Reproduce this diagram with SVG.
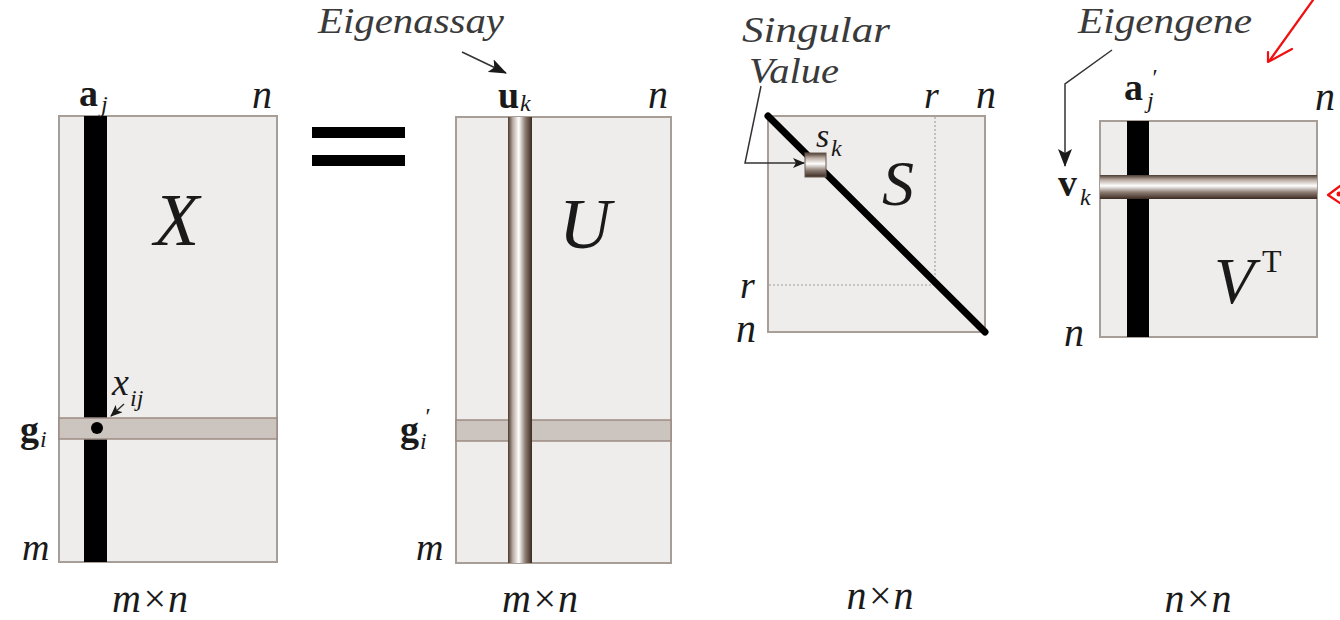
<svg xmlns="http://www.w3.org/2000/svg" width="1340" height="620" viewBox="0 0 1340 620">
<style>
.mat{fill:#efedeb;stroke:#a89e98;stroke-width:2}
.row{fill:#ccc4bf;stroke:#9c8c84;stroke-width:1.5}
.it{fill:#1a1a1a}
.bd{fill:#1a1a1a}
.lbl{fill:#3a3a3a}
.conn{fill:none;stroke:#333;stroke-width:1.5}
.red{fill:none;stroke:#f01010;stroke-width:2.2;stroke-linecap:round;stroke-linejoin:round}
</style>
<defs>
<linearGradient id="gv" x1="0" y1="0" x2="1" y2="0">
<stop offset="0" stop-color="#4a3a30"/>
<stop offset="0.2" stop-color="#b8aaa0"/>
<stop offset="0.45" stop-color="#ffffff"/>
<stop offset="0.72" stop-color="#8c7c72"/>
<stop offset="1" stop-color="#3a2a20"/>
</linearGradient>
<linearGradient id="gh" x1="0" y1="0" x2="0" y2="1">
<stop offset="0" stop-color="#4a3a30"/>
<stop offset="0.2" stop-color="#b8aaa0"/>
<stop offset="0.45" stop-color="#ffffff"/>
<stop offset="0.72" stop-color="#8c7c72"/>
<stop offset="1" stop-color="#3a2a20"/>
</linearGradient>
<marker id="ah" viewBox="0 0 12 10" refX="11" refY="5" markerWidth="12" markerHeight="10" markerUnits="userSpaceOnUse" orient="auto">
<path d="M0,0 L12,5 L0,10 L3,5 Z" fill="#1a1a1a"/>
</marker>
<marker id="ahb" viewBox="0 0 18 14" refX="17" refY="7" markerWidth="18" markerHeight="14" markerUnits="userSpaceOnUse" orient="auto">
<path d="M0,0 L18,7 L0,14 L4,7 Z" fill="#1a1a1a"/>
</marker>
</defs>

<g id="X">
<rect class="mat" x="59" y="116" width="218" height="446"/>
<rect x="84" y="116" width="23" height="446" fill="#000"/>
<rect class="row" x="59" y="418" width="218" height="21"/>
<circle cx="97" cy="428" r="6" fill="#000"/>
<text class="bd" font-family="Liberation Serif" font-weight="bold" x="79" y="106" font-size="38">a</text>
<text class="it" font-family="Liberation Serif" font-style="italic" x="101" y="112" font-size="24">j</text>
<text class="it" font-family="Liberation Serif" font-style="italic" x="252" y="108" font-size="40">n</text>
<text class="it" font-family="Liberation Serif" font-style="italic" x="154" y="245" font-size="74">X</text>
<text class="it" font-family="Liberation Serif" font-style="italic" x="112" y="395" font-size="38">x</text>
<text class="it" font-family="Liberation Serif" font-style="italic" x="130" y="406" font-size="24">ij</text>
<text class="bd" font-family="Liberation Serif" font-weight="bold" x="20" y="442" font-size="38">g</text>
<text class="it" font-family="Liberation Serif" font-style="italic" x="40" y="447" font-size="24">i</text>
<text class="it" font-family="Liberation Serif" font-style="italic" x="22" y="560" font-size="38">m</text>
<text class="it" font-family="Liberation Serif" font-style="italic" text-anchor="middle" x="150" y="612" font-size="40">m×n</text>
</g>

<g id="equals">
<rect x="312" y="127" width="93" height="11" fill="#000"/>
<rect x="312" y="155" width="93" height="11" fill="#000"/>
</g>

<g id="U">
<rect class="mat" x="456" y="117" width="215" height="446"/>
<rect class="row" x="456" y="420" width="215" height="21"/>
<rect x="508" y="117" width="24" height="446" fill="url(#gv)"/>
<text class="bd" font-family="Liberation Serif" font-weight="bold" x="498" y="108" font-size="38">u</text>
<text class="it" font-family="Liberation Serif" font-style="italic" x="520" y="111" font-size="24">k</text>
<text class="it" font-family="Liberation Serif" font-style="italic" x="648" y="108" font-size="40">n</text>
<text class="it" font-family="Liberation Serif" font-style="italic" text-anchor="middle" x="585" y="248" font-size="72">U</text>
<text class="bd" font-family="Liberation Serif" font-weight="bold" x="400" y="442" font-size="38">g</text>
<text class="it" font-family="Liberation Serif" font-style="italic" x="424" y="424" font-size="24">′</text>
<text class="it" font-family="Liberation Serif" font-style="italic" x="420" y="449" font-size="24">i</text>
<text class="it" font-family="Liberation Serif" font-style="italic" x="416" y="560" font-size="38">m</text>
<text class="it" font-family="Liberation Serif" font-style="italic" text-anchor="middle" x="540" y="612" font-size="40">m×n</text>
<text class="lbl" font-family="Liberation Serif" font-style="italic" x="318" y="33" font-size="36" textLength="186" lengthAdjust="spacingAndGlyphs">Eigenassay</text>
</g>

<g id="S">
<rect class="mat" x="768" y="116" width="217" height="216"/>
<path d="M935,117 V285 H769" fill="none" stroke="#a89e98" stroke-width="1.2" stroke-dasharray="2,2"/>
<line x1="768" y1="116" x2="985" y2="332" stroke="#000" stroke-width="7" stroke-linecap="round"/>
<rect x="805" y="153" width="21" height="24" fill="url(#gh)" stroke="#6a5a50" stroke-width="1"/>
<text class="it" font-family="Liberation Serif" font-style="italic" x="740" y="298" font-size="38">r</text>
<text class="it" font-family="Liberation Serif" font-style="italic" x="736" y="342" font-size="40">n</text>
<text class="it" font-family="Liberation Serif" font-style="italic" x="924" y="108" font-size="38">r</text>
<text class="it" font-family="Liberation Serif" font-style="italic" x="976" y="108" font-size="40">n</text>
<text class="it" font-family="Liberation Serif" font-style="italic" x="816" y="147" font-size="34">s</text>
<text class="it" font-family="Liberation Serif" font-style="italic" x="831" y="156" font-size="24">k</text>
<text class="it" font-family="Liberation Serif" font-style="italic" text-anchor="middle" x="898" y="205" font-size="64">S</text>
<text class="it" font-family="Liberation Serif" font-style="italic" text-anchor="middle" x="880" y="609" font-size="40">n×n</text>
<text class="lbl" font-family="Liberation Serif" font-style="italic" x="742" y="42" font-size="36" textLength="148" lengthAdjust="spacingAndGlyphs">Singular</text>
<text class="lbl" font-family="Liberation Serif" font-style="italic" x="749" y="83" font-size="36" textLength="90" lengthAdjust="spacingAndGlyphs">Value</text>
</g>

<g id="VT">
<rect class="mat" x="1100" y="121" width="217" height="216"/>
<rect x="1127" y="121" width="22" height="216" fill="#000"/>
<rect x="1100" y="175" width="217" height="24" fill="url(#gh)"/>
<text class="bd" font-family="Liberation Serif" font-weight="bold" x="1124" y="100" font-size="38">a</text>
<text class="it" font-family="Liberation Serif" font-style="italic" x="1151" y="85" font-size="24">′</text>
<text class="it" font-family="Liberation Serif" font-style="italic" x="1147" y="108" font-size="24">j</text>
<text class="it" font-family="Liberation Serif" font-style="italic" x="1315" y="110" font-size="40">n</text>
<text class="bd" font-family="Liberation Serif" font-weight="bold" x="1058" y="196" font-size="38">v</text>
<text class="it" font-family="Liberation Serif" font-style="italic" x="1080" y="205" font-size="24">k</text>
<text class="it" font-family="Liberation Serif" font-style="italic" x="1214" y="303" font-size="66">V</text>
<text class="bd" font-family="Liberation Serif" x="1262" y="272" font-size="32">T</text>
<text class="it" font-family="Liberation Serif" font-style="italic" x="1064" y="346" font-size="40">n</text>
<text class="it" font-family="Liberation Serif" font-style="italic" text-anchor="middle" x="1198" y="612" font-size="40">n×n</text>
<text class="lbl" font-family="Liberation Serif" font-style="italic" x="1078" y="33" font-size="36" textLength="174" lengthAdjust="spacingAndGlyphs">Eigengene</text>
</g>

<g id="connectors">
<line class="conn" x1="462" y1="52" x2="506" y2="73" marker-end="url(#ahb)"/>
<path class="conn" d="M761,86 L745,163 L804,163" marker-end="url(#ah)"/>
<path class="conn" d="M1112,50 L1065,84 L1065,166" marker-end="url(#ahb)"/>
<line class="conn" x1="124" y1="404" x2="111" y2="416" marker-end="url(#ah)"/>
</g>

<g id="annotations">
<path class="red" d="M1313,0 L1270,60"/>
<path class="red" d="M1268,52 L1268,62 L1292,49"/>
<path class="red" d="M1340,186 L1328,195 L1340,203"/>
<circle cx="1339" cy="194" r="2.5" fill="#f01010"/>
</g>
</svg>
